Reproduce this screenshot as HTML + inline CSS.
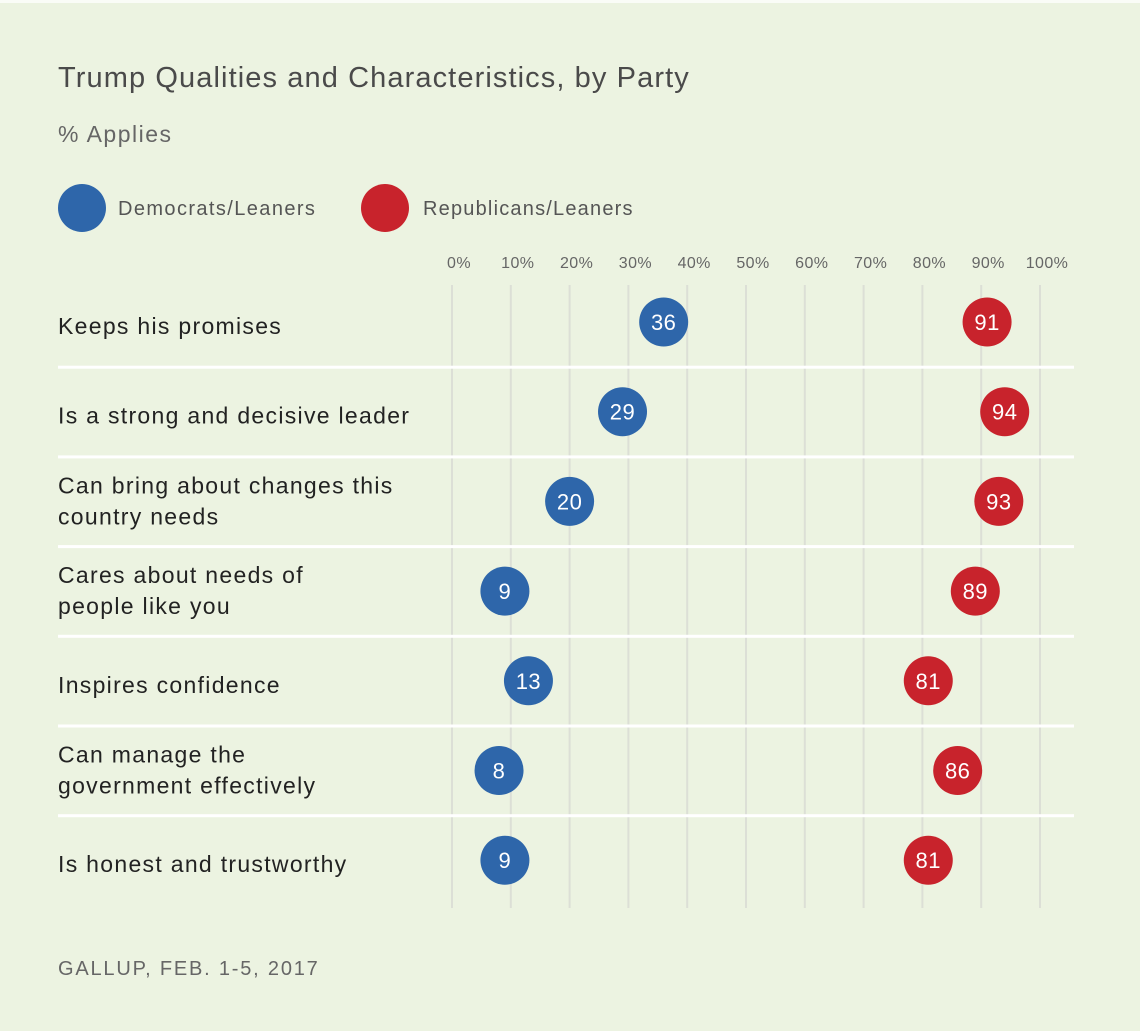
<!DOCTYPE html>
<html><head><meta charset="utf-8">
<style>
html,body{margin:0;padding:0;}
body{width:1140px;height:1031px;background:#ecf3e1;overflow:hidden;font-family:"Liberation Sans",sans-serif;}
#topline{position:absolute;left:0;top:0;width:1140px;height:3px;background:#fafcf7;}
</style></head>
<body>
<div id="topline"></div>
<svg id="chart" width="1140" height="1031" style="position:absolute;left:0;top:0">
<text x="58" y="87" font-size="29" fill="#4a4a4a" letter-spacing="1.1">Trump Qualities and Characteristics, by Party</text>
<text x="58" y="142" font-size="23" fill="#666" letter-spacing="1.5">% Applies</text>
<g>
<circle cx="82" cy="208" r="24" fill="#2e66aa"/>
<text x="118" y="215" font-size="20" fill="#555" letter-spacing="1.4">Democrats/Leaners</text>
<circle cx="385" cy="208" r="24" fill="#c8232c"/>
<text x="423" y="215" font-size="20" fill="#555" letter-spacing="1.2">Republicans/Leaners</text>
</g>
<g id="grid"></g><g id="seps"></g><g id="labels"></g><g id="dots"></g>
<text x="58" y="975" font-size="20" fill="#666" letter-spacing="1.8">GALLUP, FEB. 1-5, 2017</text>
</svg>
<script>
const categories=[["Keeps his promises"],["Is a strong and decisive leader"],["Can bring about changes this","country needs"],["Cares about needs of","people like you"],["Inspires confidence"],["Can manage the","government effectively"],["Is honest and trustworthy"]];
const demValues=[36,29,20,9,13,8,9];
const repValues=[91,94,93,89,81,86,81];
const tickValues=[0,10,20,30,40,50,60,70,80,90,100];
const tickLabels=["0%","10%","20%","30%","40%","50%","60%","70%","80%","90%","100%"];
const NS="http://www.w3.org/2000/svg";
function x(v){return 452+v*5.88;}
function rowY(i){return 322+i*89.7;}
function mk(tag,attrs,parent){const e=document.createElementNS(NS,tag);for(const k in attrs)e.setAttribute(k,attrs[k]);parent.appendChild(e);return e;}
const grid=document.getElementById('grid'),seps=document.getElementById('seps'),labels=document.getElementById('labels'),dots=document.getElementById('dots');
tickValues.forEach((t,i)=>{
  const l=mk('line',{x1:x(t),x2:x(t),y1:285,y2:908,stroke:'#dcdfd6','stroke-width':2},grid);
  
  
  const tx=mk('text',{x:x(t)+7,y:268,'font-size':16,fill:'#666','text-anchor':'middle','letter-spacing':0.4},grid);
  tx.textContent=tickLabels[i];
  
  
});
categories.forEach((c,i)=>{
  const y=rowY(i);
  if(i>0){const s=mk('rect',{x:58,y:y-46,width:1016,height:3,fill:'#ffffff'},seps);
    
    }
  const t=mk('text',{x:58,'font-size':23,fill:'#222','letter-spacing':1.3},labels);
  
  
  c.forEach((line,j)=>{const ts=mk('tspan',{x:58,y:(c.length==1?y+12:y-8+j*31)},t);ts.textContent=line;});
  [[demValues[i],'#2e66aa','dem-dot'],[repValues[i],'#c8232c','rep-dot']].forEach(([v,col,nm])=>{
    const g=mk('g',{},dots);
    
    
    mk('circle',{cx:x(v),cy:y,r:24.5,fill:col},g);
    const tt=mk('text',{x:x(v),y:y+8,'font-size':22,fill:'#fff','text-anchor':'middle','letter-spacing':0.5},g);
    tt.textContent=v;
  });
});
</script>
</body></html>
